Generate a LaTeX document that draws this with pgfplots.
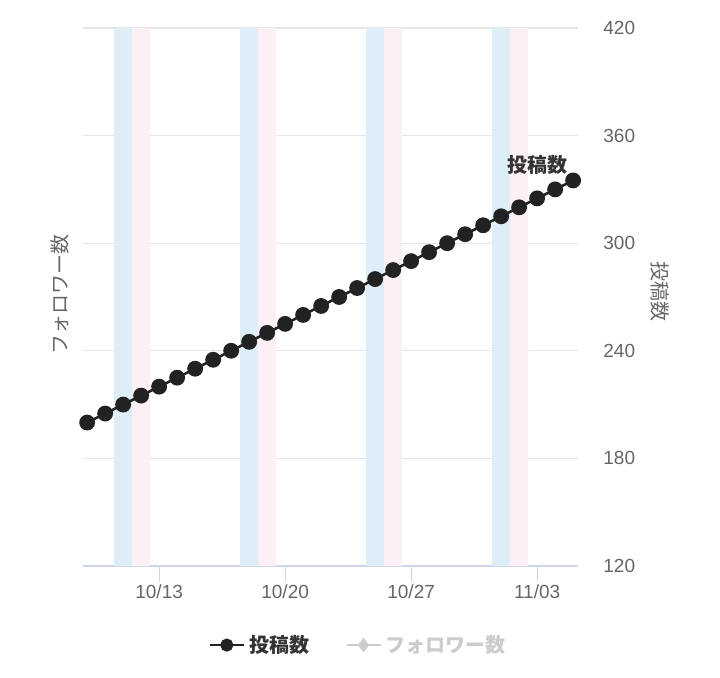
\documentclass[border=0pt]{standalone}
\usepackage{pgfplots}
\pgfplotsset{compat=1.18}
\usepackage{fontspec}
\setmainfont{Liberation Sans}
\newfontfamily\cjk{Noto Sans CJK JP}
\definecolor{tickgrey}{HTML}{666666}
\definecolor{gridgrey}{HTML}{E6E6E6}
\definecolor{axisline}{HTML}{CCD6EB}
\definecolor{satblue}{HTML}{DDEEF8}
\definecolor{sunpink}{HTML}{FDF0F4}
\definecolor{series}{HTML}{222222}
\definecolor{hidden}{HTML}{CCCCCC}
\definecolor{legtext}{HTML}{333333}
\pgfplotstableread{
x y
0 200
1 205
2 210
3 215
4 220
5 225
6 230
7 235
8 240
9 245
10 250
11 255
12 260
13 265
14 270
15 275
16 280
17 285
18 290
19 295
20 300
21 305
22 310
23 315
24 320
25 325
26 330
27 335
}\posts
\begin{document}
\begin{tikzpicture}
\begin{axis}[
  at={(0,0)}, anchor=south west,
  scale only axis, width=247.5pt, height=269pt,
  xmin=-0.23, xmax=27.27, ymin=120, ymax=420,
  ytick={120,180,...,420},
  axis x line*=bottom, axis y line*=right,
  x axis line style={draw=axisline, line width=0.6pt, -},
  y axis line style={draw=none},
  ymajorgrids, grid style={gridgrey, line width=0.6pt},
  xtick={4,11,18,25},
  xticklabels={10/13,10/20,10/27,11/03},
  xtick style={draw=axisline, line width=0.6pt},
  ytick style={draw=none},
  tick align=outside, major tick length=8pt,
  /pgf/number format/assume math mode=true,
  tick label style={font=\fontsize{9.5}{11}\selectfont, text=tickgrey},
  xticklabel style={anchor=north, inner sep=0pt, yshift=-1pt},
  yticklabel style={anchor=west, inner sep=0pt, xshift=4.5pt},
  legend style={at={(0.558,-0.147)}, anchor=center, draw=none, fill=none,
    legend columns=2, font=\fontsize{10}{12}\selectfont\cjk\bfseries,
    /tikz/every even column/.append style={column sep=16pt}},
]
\addplot[ybar, bar width=1, bar shift=0pt, draw=none, fill=satblue, forget plot]
  coordinates {(2,420) (9,420) (16,420) (23,420)};
\addplot[ybar, bar width=1, bar shift=0pt, draw=none, fill=sunpink, forget plot]
  coordinates {(3,420) (10,420) (17,420) (24,420)};
\addplot[series, line width=1.3pt, mark=*, mark size=3.3pt,
  mark options={fill=series, draw=series}, forget plot] table[x=x,y=y] {\posts};
\addlegendimage{series, line width=1.3pt, mark=*, mark size=2.6pt, mark options={fill=series}}
\addlegendentry{\textcolor{legtext}{投稿数}}
\addlegendimage{hidden, line width=1.3pt, mark=diamond*, mark size=2.6pt, mark options={fill=hidden}}
\addlegendentry{\textcolor{hidden}{フォロワー数}}
\node[font=\fontsize{10}{12}\selectfont\cjk\bfseries, text=legtext, xshift=-18pt, yshift=7.5pt]
  at (axis cs:27,335) {投稿数};
\coordinate (sw) at (rel axis cs:0,0);
\coordinate (lmid) at (rel axis cs:0,0.504);
\coordinate (rmid) at (rel axis cs:1,0.51);
\end{axis}
\node[rotate=90, font=\fontsize{10}{12}\selectfont\cjk, text=tickgrey] at ([xshift=-11.5pt]lmid) {フォロワー数};
\node[rotate=-90, font=\fontsize{10}{12}\selectfont\cjk, text=tickgrey] at ([xshift=41pt]rmid) {投稿数};
\path (sw) ++(-41.5pt,-56pt) rectangle ++(360pt,339pt);
\end{tikzpicture}
\end{document}
